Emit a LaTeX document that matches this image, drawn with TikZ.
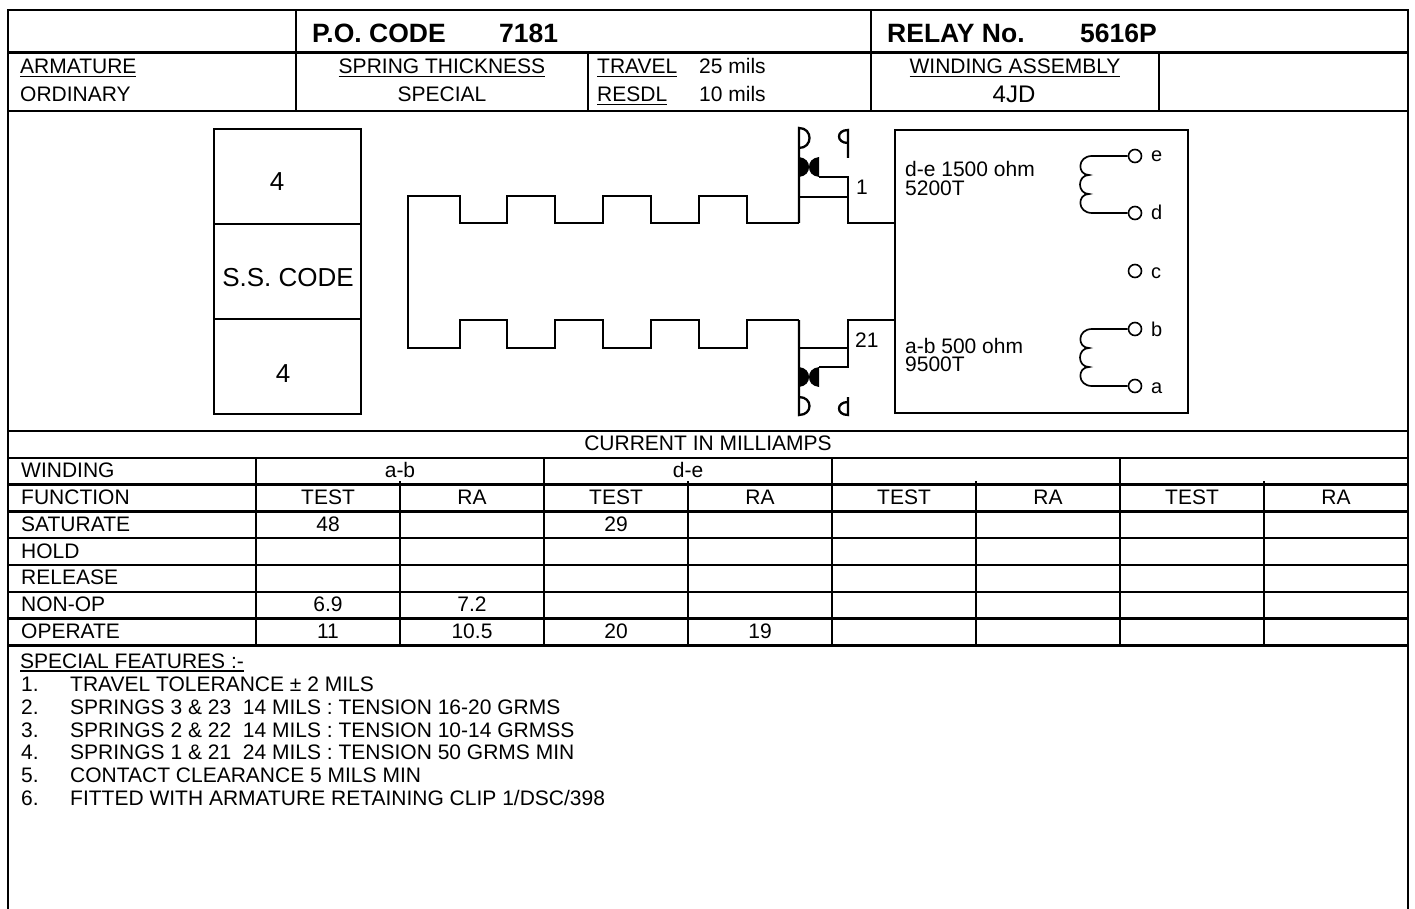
\documentclass[tikz,border=0pt]{standalone}
\usepackage{fontspec}
\setmainfont{Liberation Sans}
\newcommand{\ulx}[1]{\setbox0=\hbox{#1}\rlap{\rule[-3.3pt]{\wd0}{1.4pt}}\box0}
\begin{document}
\begin{tikzpicture}[x=1pt,y=-1pt]
\tikzset{
  frame/.style={line width=2.3pt},
  heavy/.style={line width=2.9pt},
  wire/.style={line width=2.3pt, line join=miter},
  coilw/.style={line width=1.7pt},
  t/.style={inner sep=0pt, font=\fontsize{21}{22}\selectfont},
  tb/.style={inner sep=0pt, font=\fontsize{26.5}{27}\selectfont\bfseries},
  big/.style={inner sep=0pt, font=\fontsize{26}{27}\selectfont},
  lab/.style={inner sep=0pt, font=\fontsize{20}{21}\selectfont},
  term/.style={draw, circle, line width=1.6pt, minimum size=13pt, inner sep=0pt},
}
\useasboundingbox (0,0) rectangle (1415,909);
\fill[white] (0,0) rectangle (1415,909);

% ---------- frame and rules ----------
\draw[frame] (8,915) -- (8,10) -- (1408,10) -- (1408,915);
\foreach \y in {52.5,111,431,457.8,484.6,511.4,538.2,565,591.8,618.6,645.4}
  \draw[frame] (8,\y) -- (1408,\y);
\draw[frame] (296,10) -- (296,111);
\draw[frame] (871,10) -- (871,111);
\draw[frame] (588,52.5) -- (588,111);
\draw[frame] (1159,52.5) -- (1159,111);
\foreach \x in {256,544,832,1120} \draw[frame] (\x,457.8) -- (\x,645.4);
\foreach \x in {400,688,976,1264} \draw[frame] (\x,481) -- (\x,645.4);

% ---------- header ----------
\node[tb,anchor=base west] (pocode) at (312,42.5) {P.O. CODE};
\node[tb,anchor=base west] (ponum) at (499,42.5) {7181};
\node[tb,anchor=base west] (relay) at (887,42.5) {RELAY No.};
\node[tb,anchor=base west] (relnum) at (1080,42.5) {5616P};

\node[t,anchor=base west] (arm) at (20,74) {\ulx{ARMATURE}};
\node[t,anchor=base west] (ord) at (20,102) {ORDINARY};
\node[t,anchor=base] (spr) at (442,74) {\ulx{SPRING THICKNESS}};
\node[t,anchor=base] (spc) at (442,102) {SPECIAL};
\node[t,anchor=base west] (trv) at (597,74) {\ulx{TRAVEL}};
\node[t,anchor=base west] (trvv) at (699,74) {25 mils};
\node[t,anchor=base west] (res) at (597,102) {\ulx{RESDL}};
\node[t,anchor=base west] (resv) at (699,102) {10 mils};
\node[t,anchor=base] (wa) at (1015,74) {\ulx{WINDING ASSEMBLY}};
\node[t,anchor=base,font=\fontsize{24}{25}\selectfont] (wav) at (1014,103) {4JD};

% ---------- left code box ----------
\draw[heavy] (214,129) rectangle (361,414);
\draw[heavy] (214,224) -- (361,224);
\draw[heavy] (214,319) -- (361,319);
\node[big,anchor=base] (s4a) at (277,191) {4};
\node[big,anchor=base] (ssc) at (288,286.5) {S.S. CODE};
\node[big,anchor=base] (s4b) at (283,382) {4};

% ---------- armature comb ----------
\draw[wire] (799,223) -- (747,223) -- (747,196) -- (699,196) -- (699,223) -- (651,223)
  -- (651,196) -- (603,196) -- (603,223) -- (555,223) -- (555,196) -- (507,196)
  -- (507,223) -- (460,223) -- (460,196) -- (408,196) -- (408,348) -- (460,348)
  -- (460,320) -- (507,320) -- (507,348) -- (555,348) -- (555,320) -- (603,320)
  -- (603,348) -- (651,348) -- (651,320) -- (699,320) -- (699,348) -- (747,348)
  -- (747,320) -- (799,320);

% ---------- top springs ----------
\draw[wire] (799,223) -- (799,128) .. controls (813,128) and (813,148) .. (799,148);
\draw[wire] (799,197) -- (848,197);
\draw[wire] (819,177) -- (848,177) -- (848,223) -- (895,223);
\draw[wire] (848,158) -- (848,130) .. controls (836,130) and (836,143) .. (848,143);
\fill (799,157) .. controls (806,158) and (809,162) .. (809,167)
  .. controls (809,172) and (806,176) .. (799,177) -- cycle;
\fill (819,157) .. controls (812,158) and (809,162) .. (809,167)
  .. controls (809,172) and (812,176) .. (819,177) -- cycle;
\node[t,anchor=base west] (n1) at (856,195) {1};

% ---------- bottom springs ----------
\draw[wire] (799,320) -- (799,415) .. controls (813,415) and (813,397) .. (799,397);
\draw[wire] (799,348) -- (848,348);
\draw[wire] (819,367) -- (848,367) -- (848,320) -- (895,320);
\draw[wire] (848,397) -- (848,415) .. controls (836,415) and (836,402) .. (848,402);
\fill (799,367) .. controls (806,368) and (809,372) .. (809,377)
  .. controls (809,382) and (806,386) .. (799,387) -- cycle;
\fill (819,367) .. controls (812,368) and (809,372) .. (809,377)
  .. controls (809,382) and (812,386) .. (819,387) -- cycle;
\node[t,anchor=base west] (n21) at (855,347) {21};

% ---------- winding box ----------
\draw[heavy] (895,130) rectangle (1188,413);
\node[t,anchor=base west] (de1) at (905,177) {d-e 1500 ohm};
\node[t,anchor=base west] (de2) at (905,195.5) {5200T};
\node[t,anchor=base west] (ab1) at (905,353) {a-b 500 ohm};
\node[t,anchor=base west] (ab2) at (905,371.5) {9500T};

\node[term] (te) at (1135,156) {};
\node[term] (td) at (1135,213) {};
\node[term] (tc) at (1135,271) {};
\node[term] (tbb) at (1135,329) {};
\node[term] (ta) at (1135,386) {};
\node[lab,anchor=base west] (le) at (1151,162) {e};
\node[lab,anchor=base west] (ld) at (1151,220) {d};
\node[lab,anchor=base west] (lc) at (1151,278) {c};
\node[lab,anchor=base west] (lb) at (1151,336) {b};
\node[lab,anchor=base west] (la) at (1151,393) {a};

\draw[coilw] (te.west) -- (1092,156) .. controls (1077,156) and (1077,175) .. (1089,175)
  .. controls (1077,175) and (1077,194) .. (1089,194)
  .. controls (1077,194) and (1077,213) .. (1092,213) -- (td.west);
\draw[coilw] (tbb.west) -- (1092,329) .. controls (1077,329) and (1077,348) .. (1089,348)
  .. controls (1077,348) and (1077,367) .. (1089,367)
  .. controls (1077,367) and (1077,386) .. (1092,386) -- (ta.west);

% ---------- current table ----------
\node[t,anchor=base] (cur) at (708,450.8) {CURRENT IN MILLIAMPS};
\node[t,anchor=base west] (rw) at (21,477.6) {WINDING};
\node[t,anchor=base] (wab) at (400,477.6) {a-b};
\node[t,anchor=base] (wde) at (688,477.6) {d-e};
\node[t,anchor=base west] (rf) at (21,504.4) {FUNCTION};
\foreach \c/\x in {1/328,2/616,3/904,4/1192}
  \node[t,anchor=base] (ft\c) at (\x,504.4) {TEST};
\foreach \c/\x in {1/472,2/760,3/1048,4/1336}
  \node[t,anchor=base] (fr\c) at (\x,504.4) {RA};
\node[t,anchor=base west] (rs) at (21,531.2) {SATURATE};
\node[t,anchor=base] (s48) at (328,531.2) {48};
\node[t,anchor=base] (s29) at (616,531.2) {29};
\node[t,anchor=base west] (rh) at (21,558) {HOLD};
\node[t,anchor=base west] (rr) at (21,584.8) {RELEASE};
\node[t,anchor=base west] (rn) at (21,611.6) {NON-OP};
\node[t,anchor=base] (n69) at (328,611.6) {6.9};
\node[t,anchor=base] (n72) at (472,611.6) {7.2};
\node[t,anchor=base west] (ro) at (21,638.4) {OPERATE};
\node[t,anchor=base] (o11) at (328,638.4) {11};
\node[t,anchor=base] (o105) at (472,638.4) {10.5};
\node[t,anchor=base] (o20) at (616,638.4) {20};
\node[t,anchor=base] (o19) at (760,638.4) {19};

% ---------- special features ----------
\node[t,anchor=base west] (sf) at (20,668.5) {\ulx{SPECIAL FEATURES :-}};
\node[t,anchor=base west] (f1n) at (21,691.5) {1.};
\node[t,anchor=base west] (f1) at (70,691.5) {TRAVEL TOLERANCE ± 2 MILS};
\node[t,anchor=base west] (f2n) at (21,714.3) {2.};
\node[t,anchor=base west] (f2) at (70,714.3) {SPRINGS 3 \& 23\ \ 14 MILS : TENSION 16-20 GRMS};
\node[t,anchor=base west] (f3n) at (21,737) {3.};
\node[t,anchor=base west] (f3) at (70,737) {SPRINGS 2 \& 22\ \ 14 MILS : TENSION 10-14 GRMSS};
\node[t,anchor=base west] (f4n) at (21,759.8) {4.};
\node[t,anchor=base west] (f4) at (70,759.8) {SPRINGS 1 \& 21\ \ 24 MILS : TENSION 50 GRMS MIN};
\node[t,anchor=base west] (f5n) at (21,782.6) {5.};
\node[t,anchor=base west] (f5) at (70,782.6) {CONTACT CLEARANCE 5 MILS MIN};
\node[t,anchor=base west] (f6n) at (21,805.4) {6.};
\node[t,anchor=base west] (f6) at (70,805.4) {FITTED WITH ARMATURE RETAINING CLIP 1/DSC/398};
\end{tikzpicture}
\end{document}
